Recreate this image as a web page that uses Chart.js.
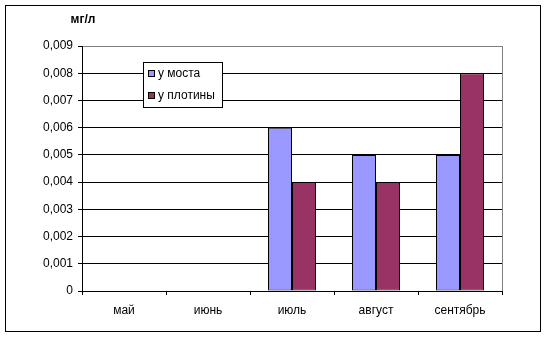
<!DOCTYPE html>
<html>
<head>
<meta charset="utf-8">
<script src="https://cdn.jsdelivr.net/npm/chart.js@4/dist/chart.umd.min.js"></script>
<style>
html,body{margin:0;padding:0;background:#fff;}
#wrap{width:547px;height:337px;position:relative;}
</style>
</head>
<body>
<div id="wrap"><canvas id="c" width="547" height="337"></canvas></div>
<script>
const categories = ['май', 'июнь', 'июль', 'август', 'сентябрь'];
const seriesNames = ['у моста', 'у плотины'];
const bridgeValues = [null, null, 0.006, 0.005, 0.005];
const damValues = [null, null, 0.004, 0.004, 0.008];
const yTickValues = [0, 0.001, 0.002, 0.003, 0.004, 0.005, 0.006, 0.007, 0.008, 0.009];
const yTickLabels = ['0', '0,001', '0,002', '0,003', '0,004', '0,005', '0,006', '0,007', '0,008', '0,009'];
const unitLabel = 'мг/л';

const FONT = 'Liberation Sans, Arial, sans-serif';

const decor = {
  id: 'decor',
  afterDraw(chart) {
    const ctx = chart.ctx;
    const a = chart.chartArea;
    ctx.save();
    ctx.strokeStyle = '#000';
    ctx.lineWidth = 1;
    ctx.strokeRect(5.5, 5.5, 535, 326);
    ctx.strokeStyle = '#808080';
    ctx.beginPath();
    ctx.moveTo(Math.round(a.right) + 0.5, a.top);
    ctx.lineTo(Math.round(a.right) + 0.5, a.bottom);
    ctx.stroke();
    ctx.fillStyle = '#000';
    ctx.font = 'bold 12px ' + FONT;
    ctx.textAlign = 'center';
    ctx.textBaseline = 'middle';
    ctx.fillText(unitLabel, 83, 20);
    const lx = 143, ly = 62, lw = 79, lh = 45;
    ctx.fillStyle = '#fff';
    ctx.fillRect(lx, ly, lw, lh);
    ctx.strokeStyle = '#000';
    ctx.strokeRect(lx + 0.5, ly + 0.5, lw, lh);
    ctx.font = '12px ' + FONT;
    ctx.textAlign = 'left';
    chart.data.datasets.forEach((ds, i) => {
      const cy = ly + 12 + i * 22;
      ctx.fillStyle = ds.backgroundColor;
      ctx.fillRect(lx + 5, cy - 4, 7, 7);
      ctx.strokeStyle = '#000';
      ctx.strokeRect(lx + 5.5, cy - 3.5, 6, 6);
      ctx.fillStyle = '#000';
      ctx.fillText(ds.label, lx + 15, cy);
    });
    ctx.restore();
  }
};

new Chart(document.getElementById('c'), {
  type: 'bar',
  data: {
    labels: categories,
    datasets: [
      { label: seriesNames[0], data: bridgeValues, backgroundColor: '#9999FF', borderColor: '#000', borderWidth: 1, borderSkipped: false, inflateAmount: 0 },
      { label: seriesNames[1], data: damValues, backgroundColor: '#993366', borderColor: '#000', borderWidth: 1, borderSkipped: false, inflateAmount: 0 }
    ]
  },
  options: {
    responsive: false,
    animation: false,
    devicePixelRatio: 1,
    layout: { padding: { left: 0, right: 45, top: 46, bottom: 0 } },
    datasets: { bar: { categoryPercentage: 48 / 84, barPercentage: 1 } },
    plugins: { legend: { display: false }, tooltip: { enabled: false }, title: { display: false } },
    scales: {
      x: {
        offset: true,
        grid: { display: true, drawOnChartArea: false, drawTicks: true, tickLength: 4, color: '#000', offset: true },
        border: { display: true, color: '#000', width: 1 },
        ticks: { color: '#000', font: { family: FONT, size: 12 }, padding: 8, maxRotation: 0 },
        afterFit(s) { s.height = 337 - 291; }
      },
      y: {
        min: 0,
        max: 0.009,
        afterBuildTicks(s) { s.ticks = yTickValues.map(v => ({ value: v })); },
        grid: {
          color: (c) => (c.index === yTickValues.length - 1 ? '#808080' : '#000'),
          tickColor: '#000',
          tickLength: 4,
          lineWidth: 1
        },
        border: { display: true, color: '#000', width: 1 },
        ticks: {
          color: '#000',
          font: { family: FONT, size: 12 },
          padding: 5,
          callback: (v, i) => yTickLabels[i]
        },
        afterFit(s) { s.width = 82; }
      }
    }
  },
  plugins: [decor]
});
</script>
</body>
</html>
